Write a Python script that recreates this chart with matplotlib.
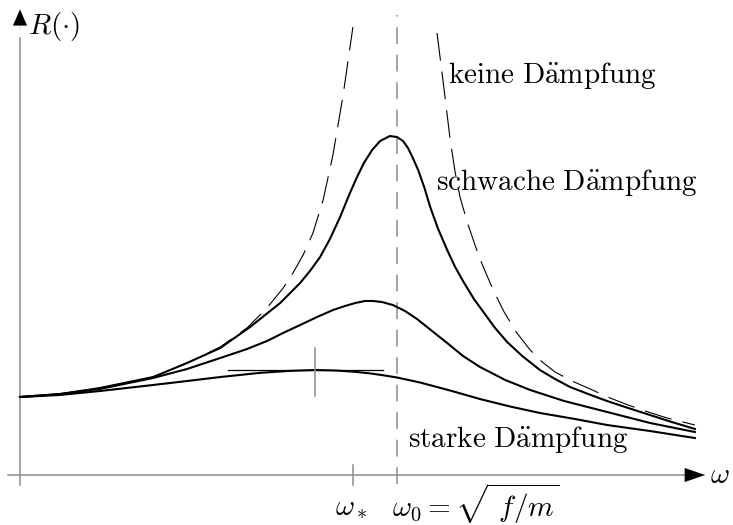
import matplotlib
matplotlib.use("Agg")
import matplotlib.pyplot as plt

plt.rcParams['mathtext.fontset'] = 'cm'

# values: omega in units of omega_0, R in units of R(0)
undamped_left_w = [0.000, 0.106, 0.212, 0.353, 0.443, 0.531, 0.602, 0.655, 0.698, 0.724, 0.751, 0.777,
                   0.804, 0.830, 0.857, 0.883]
undamped_left_r = [1.000, 1.038, 1.115, 1.256, 1.436, 1.641, 1.885, 2.141, 2.397, 2.590, 2.821, 3.103,
                   3.526, 4.103, 4.872, 5.744]
undamped_right_w = [1.106, 1.125, 1.141, 1.154, 1.167, 1.186, 1.204, 1.220, 1.239, 1.260, 1.284, 1.316,
                    1.353, 1.385, 1.419, 1.464, 1.512, 1.565, 1.613, 1.666, 1.716, 1.790]
undamped_right_r = [5.667, 4.936, 4.295, 3.885, 3.564, 3.244, 2.987, 2.769, 2.551, 2.321, 2.090, 1.833,
                    1.603, 1.449, 1.321, 1.205, 1.103, 0.987, 0.897, 0.808, 0.731, 0.641]

weak_w = [0.000, 0.106, 0.212, 0.353, 0.443, 0.531, 0.610, 0.690, 0.743, 0.769, 0.796, 0.822, 0.849, 0.875,
          0.894, 0.912, 0.934, 0.955, 0.981, 1.000, 1.016, 1.029, 1.042, 1.056, 1.072, 1.088, 1.109, 1.133,
          1.154, 1.178, 1.204, 1.231, 1.260, 1.292, 1.332, 1.379, 1.419, 1.459, 1.507, 1.557, 1.613, 1.671,
          1.729, 1.790]
weak_r = [1.000, 1.038, 1.115, 1.256, 1.436, 1.628, 1.897, 2.205, 2.462, 2.615, 2.795, 3.026, 3.308, 3.615,
          3.821, 4.000, 4.167, 4.282, 4.346, 4.333, 4.282, 4.192, 4.064, 3.910, 3.692, 3.436, 3.154, 2.885,
          2.667, 2.462, 2.256, 2.077, 1.885, 1.705, 1.526, 1.346, 1.231, 1.128, 1.038, 0.949, 0.859, 0.769,
          0.679, 0.590]

medium_w = [0.000, 0.106, 0.212, 0.353, 0.443, 0.531, 0.602, 0.655, 0.703, 0.743, 0.788, 0.830, 0.862, 0.889,
            0.915, 0.936, 0.960, 0.989, 1.021, 1.053, 1.093, 1.133, 1.175, 1.220, 1.287, 1.353, 1.443, 1.557,
            1.671, 1.790]
medium_r = [1.000, 1.038, 1.103, 1.244, 1.359, 1.500, 1.615, 1.718, 1.833, 1.923, 2.026, 2.115, 2.167, 2.205,
            2.231, 2.231, 2.218, 2.179, 2.103, 2.000, 1.846, 1.692, 1.526, 1.385, 1.218, 1.090, 0.949, 0.808,
            0.667, 0.551]

strong_w = [0.000, 0.106, 0.212, 0.353, 0.443, 0.531, 0.637, 0.716, 0.782, 0.836, 0.889, 0.928, 0.963, 1.000,
            1.061, 1.141, 1.220, 1.300, 1.379, 1.472, 1.557, 1.671, 1.790]
strong_r = [1.000, 1.026, 1.077, 1.154, 1.205, 1.256, 1.310, 1.335, 1.346, 1.340, 1.323, 1.303, 1.279, 1.250,
            1.186, 1.083, 0.974, 0.878, 0.795, 0.718, 0.641, 0.564, 0.474]

strong_peak = (0.782, 1.346)
tangent_span = (0.552, 0.963)
omega_star = 0.883
omega_0 = 1.0

fig = plt.figure(figsize=(7.33, 5.25), dpi=100)
ax = fig.add_axes([0, 0, 1, 1])
ax.set_xlim(-0.053, 1.891)
ax.set_ylim(-0.641, 6.090)
ax.axis('off')

gray = '#8c8c8c'

# axes with arrow heads
ax.plot([-0.032, 1.77], [0, 0], color=gray, lw=1.1)
ax.plot([0, 0], [-0.128, 5.6], color=gray, lw=1.1)
ax.annotate('', xy=(1.817, 0), xytext=(1.76, 0),
            arrowprops=dict(arrowstyle='-|>,head_length=1.45,head_width=0.5', color='black', lw=0.1,
                            shrinkA=0, shrinkB=0))
ax.annotate('', xy=(0, 5.97), xytext=(0, 5.70),
            arrowprops=dict(arrowstyle='-|>,head_length=1.15,head_width=0.5', color='black', lw=0.1,
                            shrinkA=0, shrinkB=0))

# omega_0 line and omega_* tick
ax.plot([omega_0, omega_0], [-0.115, 5.897], color=gray, lw=1.1, linestyle=(0, (11, 7)))
ax.plot([omega_star, omega_star], [-0.128, 0.128], color=gray, lw=1.1)

# curves
ax.plot(undamped_left_w, undamped_left_r, color='black', lw=0.8, linestyle=(0, (25, 10)))
ax.plot(undamped_right_w, undamped_right_r, color='black', lw=0.8, linestyle=(0, (25, 10)))
for w, r in [(weak_w, weak_r), (medium_w, medium_r), (strong_w, strong_r)]:
    ax.plot(w, r, color='black', lw=1.5, solid_joinstyle='round')

# maximum marker of the strong damping curve
ax.plot(tangent_span, [strong_peak[1]] * 2, color='black', lw=0.9)
ax.plot([strong_peak[0]] * 2, [1.013, 1.628], color=gray, lw=1.1)

fs = 21
ax.text(0.021, 5.756, r'$R(\cdot)$', fontsize=fs, ha='left', va='center')
ax.text(1.830, 0, r'$\omega$', fontsize=fs, ha='left', va='center')
ax.text(omega_star - 0.005, -0.40, r'$\omega_\ast$', fontsize=fs, ha='center', va='center')
ax.text(0.987, -0.37, r'$\omega_0 = \sqrt{\ f/m}$', fontsize=fs, ha='left', va='center')
ax.text(1.135, 5.128, r'$\mathrm{keine\ D\ddot{a}mpfung}$', fontsize=fs, ha='left', va='center')
ax.text(1.103, 3.744, r'$\mathrm{schwache\ D\ddot{a}mpfung}$', fontsize=fs, ha='left', va='center')
ax.text(1.029, 0.449, r'$\mathrm{starke\ D\ddot{a}mpfung}$', fontsize=fs, ha='left', va='center')

fig.savefig('out.png', dpi=100)
